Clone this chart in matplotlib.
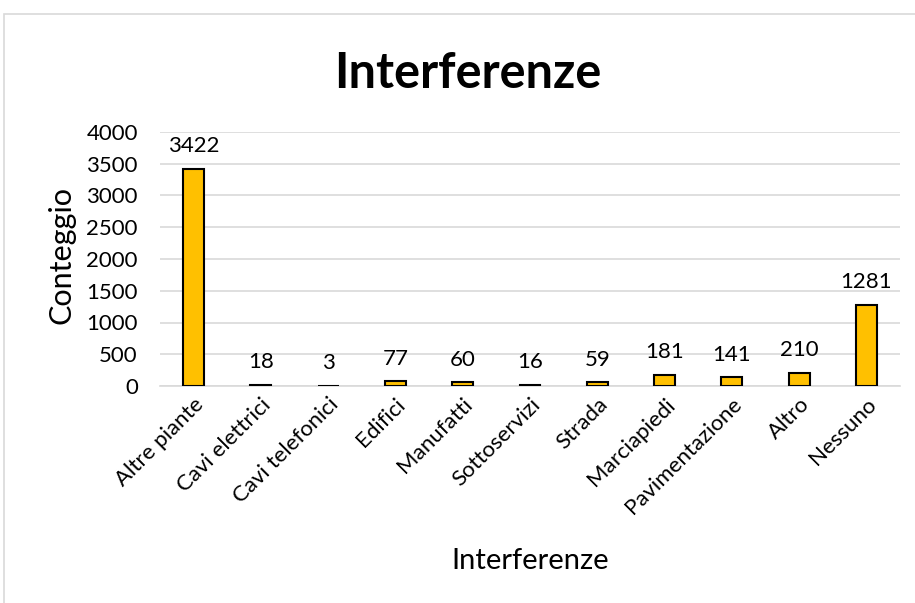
import matplotlib
matplotlib.use("Agg")
import matplotlib.pyplot as plt
from matplotlib.patches import Rectangle

categories = ["Altre piante", "Cavi elettrici", "Cavi telefonici", "Edifici", "Manufatti",
              "Sottoservizi", "Strada", "Marciapiedi", "Pavimentazione", "Altro", "Nessuno"]
counts = [3422, 18, 3, 77, 60, 16, 59, 181, 141, 210, 1281]
yticks = [0, 500, 1000, 1500, 2000, 2500, 3000, 3500, 4000]

plt.rcParams['font.family'] = ['Lato', 'DejaVu Sans']

W, H = 915, 603
fig = plt.figure(figsize=(W / 100, H / 100), dpi=100)

# chart frame
fig.patches.append(Rectangle((4 / W, -0.1), 1.2, (H - 14) / H + 0.1, transform=fig.transFigure,
                             fill=False, edgecolor="#D9D9D9", linewidth=1.2))

ax = fig.add_axes([160 / W, (H - 386) / H, 740 / W, 254 / H])
x = list(range(len(categories)))
ax.bar(x, counts, width=0.31, color="#FFC000", edgecolor="black", linewidth=1.5, zorder=3)

for xi, v in zip(x, counts):
    ax.annotate(str(v), (xi, v), xytext=(0, 9), textcoords="offset points",
                ha="center", va="bottom", fontsize=16, color="#000000")

ax.set_xlim(-0.5, len(categories) - 0.5)
ax.set_ylim(0, 4000)
ax.set_yticks(yticks)
ax.set_yticklabels([str(t) for t in yticks], fontsize=16)
ax.set_xticks(x)
ax.set_xticklabels(categories, rotation=45, ha="right", rotation_mode="anchor", fontsize=16)
ax.tick_params(axis="y", length=0, pad=16)
ax.tick_params(axis="x", length=0, pad=6)
ax.yaxis.grid(True, color="#D9D9D9", linewidth=1.2, zorder=0)
for s in ["top", "right", "left"]:
    ax.spines[s].set_visible(False)
ax.spines["bottom"].set_color("#D9D9D9")
ax.spines["bottom"].set_linewidth(1.2)

fig.text(468 / W, 1 - 74 / H, "Interferenze", ha="center", va="center",
         fontsize=35, fontweight="bold")
fig.text(62 / W, 1 - 255 / H, "Conteggio", ha="center", va="center",
         rotation=90, fontsize=22)
fig.text(530 / W, 1 - 561 / H, "Interferenze", ha="center", va="center", fontsize=21)

fig.savefig("out.png", dpi=100, facecolor="white")
